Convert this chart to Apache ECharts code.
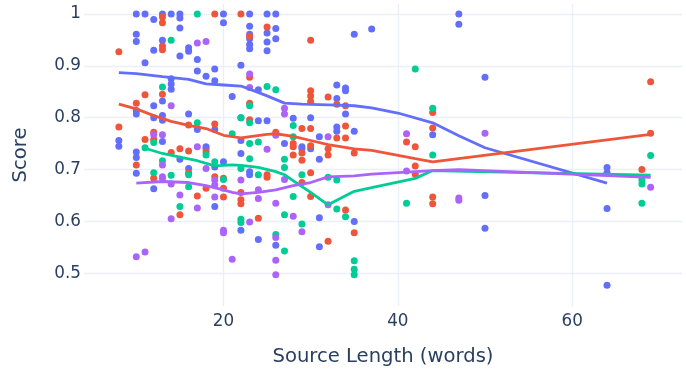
<!DOCTYPE html>
<html>
<head>
<meta charset="utf-8">
<script src="https://cdn.jsdelivr.net/npm/echarts@6/dist/echarts.min.js"></script>
<style>
html,body{margin:0;padding:0;background:#fff;}
#c{width:686px;height:372px;}
</style>
</head>
<body>
<div id="c"></div>
<script>
// ---- data (x = source length in words, y = score) ----
const bluePts = [
  [8,0.756],[8,0.745],
  [10,1.0],[10,0.961],[10,0.947],[10,0.814],[10,0.807],[10,0.734],[10,0.723],[10,0.693],
  [11,1.0],[11,0.906],
  [12,0.989],[12,0.93],[12,0.823],[12,0.80],[12,0.663],
  [13,1.0],[13,0.949],[13,0.832],[13,0.804],[13,0.795],[13,0.754],
  [14,1.0],[14,0.875],[14,0.865],[14,0.855],
  [15,1.0],[15,0.992],[15,0.973],[15,0.919],[15,0.72],
  [16,0.935],[16,0.928],[16,0.807],[16,0.702],
  [17,0.912],[17,0.89],[17,0.777],
  [18,0.88],[18,0.744],[18,0.74],
  [19,0.894],[19,0.871],[19,0.777],[19,0.705],[19,0.629],
  [20,1.0],[20,0.983],[20,0.715],
  [21,0.841],
  [22,0.901],[22,0.80],[22,0.756],[22,0.731],[22,0.583],
  [23,1.0],[23,0.976],[23,0.961],[23,0.952],[23,0.941],[23,0.933],[23,0.696],[23,0.69],
  [24,0.854],[24,0.794],[24,0.565],
  [25,1.0],[25,0.963],[25,0.946],[25,0.929],[25,0.794],
  [26,1.0],[26,0.972],[26,0.952],[26,0.554],
  [27,0.75],
  [28,0.799],
  [29,0.744],[29,0.74],
  [30,0.80],[30,0.74],
  [31,0.763],[31,0.72],[31,0.607],[31,0.551],
  [33,0.863],[33,0.837],[33,0.782],[33,0.774],
  [34,0.857],[34,0.852],[34,0.807],
  [35,0.961],[35,0.774],[35,0.60],
  [37,0.971],
  [44,0.767],
  [47,1.0],[47,0.98],
  [50,0.878],[50,0.65],[50,0.587],
  [64,0.704],[64,0.694],[64,0.625],[64,0.477]
];
const redPts = [
  [8,0.927],[8,0.782],
  [10,0.828],[10,0.709],
  [11,0.844],[11,0.758],
  [12,0.772],[12,0.758],[12,0.683],
  [13,0.994],[13,0.983],[13,0.938],[13,0.931],[13,0.845],
  [14,0.733],
  [15,0.74],[15,0.613],
  [16,0.786],[16,0.736],[16,0.694],
  [17,0.649],
  [18,0.734],[18,0.664],
  [19,1.0],[19,0.788],[19,0.686],
  [20,0.683],[20,0.664],[20,0.647],
  [22,1.0],[22,0.656],[22,0.642],[22,0.634],
  [23,0.957],[23,0.878],[23,0.828],[23,0.796],
  [24,0.606],
  [25,0.975],[25,0.69],[25,0.685],
  [26,0.772],
  [28,0.75],[28,0.744],[28,0.728],
  [29,0.779],[29,0.732],[29,0.718],[29,0.675],
  [30,0.949],[30,0.852],[30,0.842],[30,0.831],[30,0.779],[30,0.746],[30,0.694],[30,0.648],
  [32,0.84],[32,0.74],[32,0.728],[32,0.562],
  [33,0.826],[33,0.761],
  [34,0.823],[34,0.784],[34,0.761],[34,0.622],
  [35,0.732],[35,0.578],
  [41,0.753],
  [42,0.744],[42,0.707],[42,0.691],
  [44,0.81],[44,0.78],[44,0.647],[44,0.634],
  [68,0.70],
  [69,0.869],[69,0.77]
];
const greenPts = [
  [11,0.742],
  [12,0.752],[12,0.694],
  [13,0.859],[13,0.717],
  [14,0.949],[14,0.689],
  [15,0.629],
  [16,0.69],[16,0.667],
  [17,1.0],[17,0.79],
  [18,0.728],
  [19,0.715],
  [20,0.681],
  [21,0.769],
  [22,0.80],[22,0.702],[22,0.604],[22,0.598],
  [23,0.823],[23,0.79],[23,0.75],[23,0.721],
  [24,0.753],[24,0.69],
  [25,0.86],
  [26,0.854],[26,0.575],
  [27,0.72],[27,0.704],[27,0.613],[27,0.543],
  [28,0.785],[28,0.763],[28,0.648],
  [29,0.69],[29,0.595],
  [32,0.685],
  [33,0.68],[33,0.624],
  [34,0.609],
  [35,0.524],[35,0.508],[35,0.497],
  [41,0.635],
  [42,0.894],
  [44,0.818],[44,0.728],
  [68,0.68],[68,0.672],[68,0.635],
  [69,0.727]
];
const purplePts = [
  [10,0.532],
  [11,0.541],
  [12,0.767],
  [13,0.767],[13,0.709],[13,0.686],[13,0.683],
  [14,0.823],[14,0.672],[14,0.605],
  [15,0.651],
  [17,0.944],[17,0.744],[17,0.626],
  [18,0.947],[18,0.702],
  [19,0.68],[19,0.67],[19,0.647],
  [20,0.583],[20,0.578],
  [21,0.527],
  [22,0.68],
  [23,0.884],[23,0.858],[23,0.599],
  [24,0.661],[24,0.644],
  [25,0.739],
  [26,0.766],[26,0.635],[26,0.569],[26,0.525],[26,0.497],
  [27,0.818],[27,0.807],[27,0.681],
  [28,0.61],
  [29,0.58],
  [32,0.763],[32,0.632],
  [41,0.769],[41,0.697],
  [47,0.645],[47,0.641],
  [50,0.77],
  [69,0.666]
];
// lowess trend lines
const blueTrend = [[8,0.887],[10,0.885],[13,0.879],[16,0.874],[18,0.865],[20,0.863],[22,0.861],[23,0.855],[25,0.842],[27,0.828],[29,0.826],[33,0.824],[35,0.823],[37,0.819],[40,0.809],[44,0.79],[47,0.765],[50,0.742],[64,0.674]];
const redTrend = [[8,0.826],[10,0.817],[12,0.804],[14,0.793],[16,0.785],[18,0.779],[20,0.766],[22,0.761],[25,0.768],[26,0.769],[28,0.764],[30,0.756],[32,0.748],[35,0.74],[37,0.737],[42,0.721],[44,0.715],[69,0.768]];
const greenTrend = [[11,0.741],[13,0.731],[15,0.724],[17,0.717],[19,0.707],[21,0.709],[22,0.708],[24,0.704],[26,0.696],[27,0.69],[29,0.667],[30,0.656],[32,0.632],[35,0.658],[37,0.665],[42,0.683],[44,0.698],[69,0.689]];
const purpleTrend = [[10,0.674],[13,0.677],[16,0.675],[18,0.669],[20,0.661],[21,0.656],[22,0.653],[24,0.656],[26,0.661],[28,0.669],[30,0.675],[32,0.686],[35,0.688],[37,0.691],[41,0.695],[44,0.698],[47,0.70],[69,0.685]];
const xTicks = [20, 40, 60];
const yTicks = [0.5, 0.6, 0.7, 0.8, 0.9, 1];
const colors = ['#636efa', '#EF553B', '#00cc96', '#ab63fa'];

const groups = [[bluePts, blueTrend], [redPts, redTrend], [greenPts, greenTrend], [purplePts, purpleTrend]];
const series = [];
groups.forEach((g, i) => {
  series.push({
    type: 'scatter', data: g[0], symbolSize: 7,
    itemStyle: { color: colors[i], opacity: 1 }, silent: true
  });
  series.push({
    type: 'line', data: g[1], showSymbol: false, symbol: 'none',
    lineStyle: { color: colors[i], width: 2.8 }, silent: true
  });
});

const font = "'DejaVu Sans', sans-serif";
const chart = echarts.init(document.getElementById('c'), null, { renderer: 'canvas' });
chart.setOption({
  animation: false,
  backgroundColor: '#ffffff',
  grid: { left: 84, right: 4, top: 4, bottom: 63, containLabel: false },
  xAxis: {
    type: 'value', min: 4.0, max: 72.6,
    name: 'Source Length (words)', nameLocation: 'middle', nameGap: 41,
    nameTextStyle: { color: '#2a3f5f', fontSize: 19.6, fontFamily: font },
    axisLine: { show: false }, axisTick: { show: false, customValues: xTicks },
    axisLabel: { customValues: xTicks, color: '#2a3f5f', fontSize: 16.8, fontFamily: font, margin: 7 },
    splitLine: { show: true, lineStyle: { color: '#EBF0F8', width: 1.4 } }
  },
  yAxis: {
    type: 'value', min: 0.437, max: 1.0191,
    name: 'Score', nameLocation: 'middle', nameGap: 53,
    nameTextStyle: { color: '#2a3f5f', fontSize: 19.6, fontFamily: font },
    axisLine: { show: false }, axisTick: { show: false, customValues: yTicks },
    axisLabel: { customValues: yTicks, color: '#2a3f5f', fontSize: 16.8, fontFamily: font, margin: 3 },
    splitLine: { show: true, lineStyle: { color: '#EBF0F8', width: 1.4 } }
  },
  series: series
});
</script>
</body>
</html>
